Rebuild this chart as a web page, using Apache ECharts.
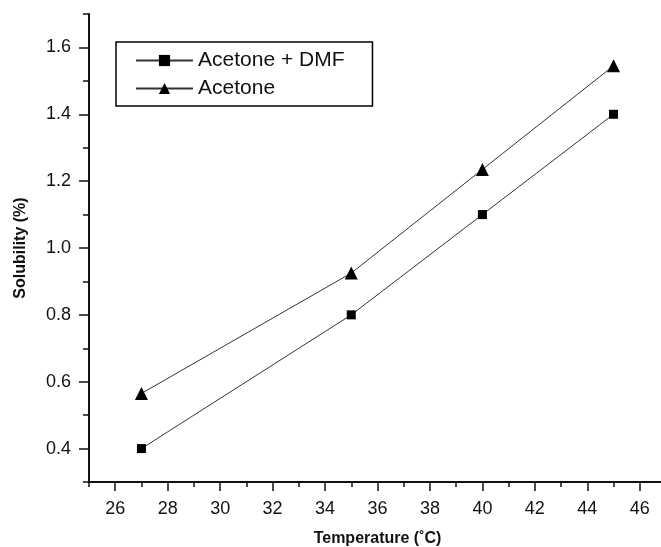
<!DOCTYPE html>
<html>
<head>
    <meta charset="UTF-8">
    <title>Solubility vs Temperature</title>
    <script src="https://cdn.jsdelivr.net/npm/echarts/dist/echarts.min.js"></script>
    <style>
        html, body { margin: 0; padding: 0; background: #fff; }
        #main { width: 661px; height: 547px; }
    </style>
</head>
<body>
    <div id="main"></div>
    <script type="text/javascript">
        // data
        var temperatures = [27, 35, 40, 45];
        var acetoneDmf = [0.40, 0.80, 1.10, 1.40];
        var acetone = [0.565, 0.925, 1.235, 1.545];

        var xMajorTicks = [26, 28, 30, 32, 34, 36, 38, 40, 42, 44, 46];
        var xMinorTicks = [25, 27, 29, 31, 33, 35, 37, 39, 41, 43, 45, 47];
        var yMajorTicks = [0.4, 0.6, 0.8, 1.0, 1.2, 1.4, 1.6];
        var yMinorTicks = [0.3, 0.5, 0.7, 0.9, 1.1, 1.3, 1.5, 1.7];

        var font = 'Liberation Sans, Arial, sans-serif';
        var chart = echarts.init(document.getElementById('main'));

        function pairs(xs, ys) {
            return xs.map(function (x, i) { return [x, ys[i]]; });
        }

        var option = {
            animation: false,
            backgroundColor: '#fff',
            textStyle: { fontFamily: font },
            grid: { left: 89, right: -5, top: 14, bottom: 65, outerBoundsMode: 'none' },
            legend: {
                orient: 'vertical',
                left: 116,
                top: 42,
                padding: [8, 28, 7, 19],
                itemGap: 7,
                itemWidth: 57,
                itemHeight: 14,
                borderColor: '#000',
                borderWidth: 1.5,
                textStyle: { fontSize: 21, color: '#111', fontFamily: font },
                data: ['Acetone + DMF', 'Acetone']
            },
            xAxis: [
                {
                    type: 'value', position: 'bottom', min: 25, max: 47,
                    name: 'Temperature (\u02DAC)', nameLocation: 'middle', nameGap: 49,
                    nameTextStyle: { fontSize: 16, fontWeight: 'bold', color: '#111', fontFamily: font },
                    axisLine: { show: true, lineStyle: { color: '#111', width: 2 } },
                    axisTick: { show: true, customValues: xMajorTicks, length: 9, lineStyle: { color: '#111', width: 1.5 } },
                    axisLabel: { customValues: xMajorTicks, fontSize: 18, color: '#111', margin: 18, fontFamily: font },
                    splitLine: { show: false }
                },
                {
                    type: 'value', position: 'bottom', min: 25, max: 47,
                    axisLine: { show: false },
                    axisTick: { show: true, customValues: xMinorTicks, length: 5, lineStyle: { color: '#111', width: 1.5 } },
                    axisLabel: { show: false },
                    splitLine: { show: false }
                }
            ],
            yAxis: [
                {
                    type: 'value', position: 'left', min: 0.3, max: 1.7,
                    name: 'Solubility (%)', nameLocation: 'middle', nameGap: 60,
                    nameTextStyle: { fontSize: 16, fontWeight: 'bold', color: '#111', fontFamily: font },
                    axisLine: { show: true, lineStyle: { color: '#111', width: 2 } },
                    axisTick: { show: true, customValues: yMajorTicks, length: 10, lineStyle: { color: '#111', width: 1.5 } },
                    axisLabel: {
                        customValues: yMajorTicks, fontSize: 18, color: '#111', margin: 18, fontFamily: font,
                        formatter: function (v) { return v.toFixed(1); }
                    },
                    splitLine: { show: false }
                },
                {
                    type: 'value', position: 'left', min: 0.3, max: 1.7,
                    axisLine: { show: false },
                    axisTick: { show: true, customValues: yMinorTicks, length: 6, lineStyle: { color: '#111', width: 1.5 } },
                    axisLabel: { show: false },
                    splitLine: { show: false }
                }
            ],
            series: [
                {
                    name: 'Acetone + DMF',
                    type: 'line',
                    xAxisIndex: 0, yAxisIndex: 0,
                    data: pairs(temperatures, acetoneDmf),
                    symbol: 'rect',
                    symbolSize: 9,
                    lineStyle: { color: '#333', width: 1 },
                    itemStyle: { color: '#000' }
                },
                {
                    name: 'Acetone',
                    type: 'line',
                    xAxisIndex: 0, yAxisIndex: 0,
                    data: pairs(temperatures, acetone),
                    symbol: 'triangle',
                    symbolSize: 13,
                    lineStyle: { color: '#333', width: 1 },
                    itemStyle: { color: '#000' }
                }
            ]
        };

        chart.setOption(option);
    </script>
</body>
</html>
